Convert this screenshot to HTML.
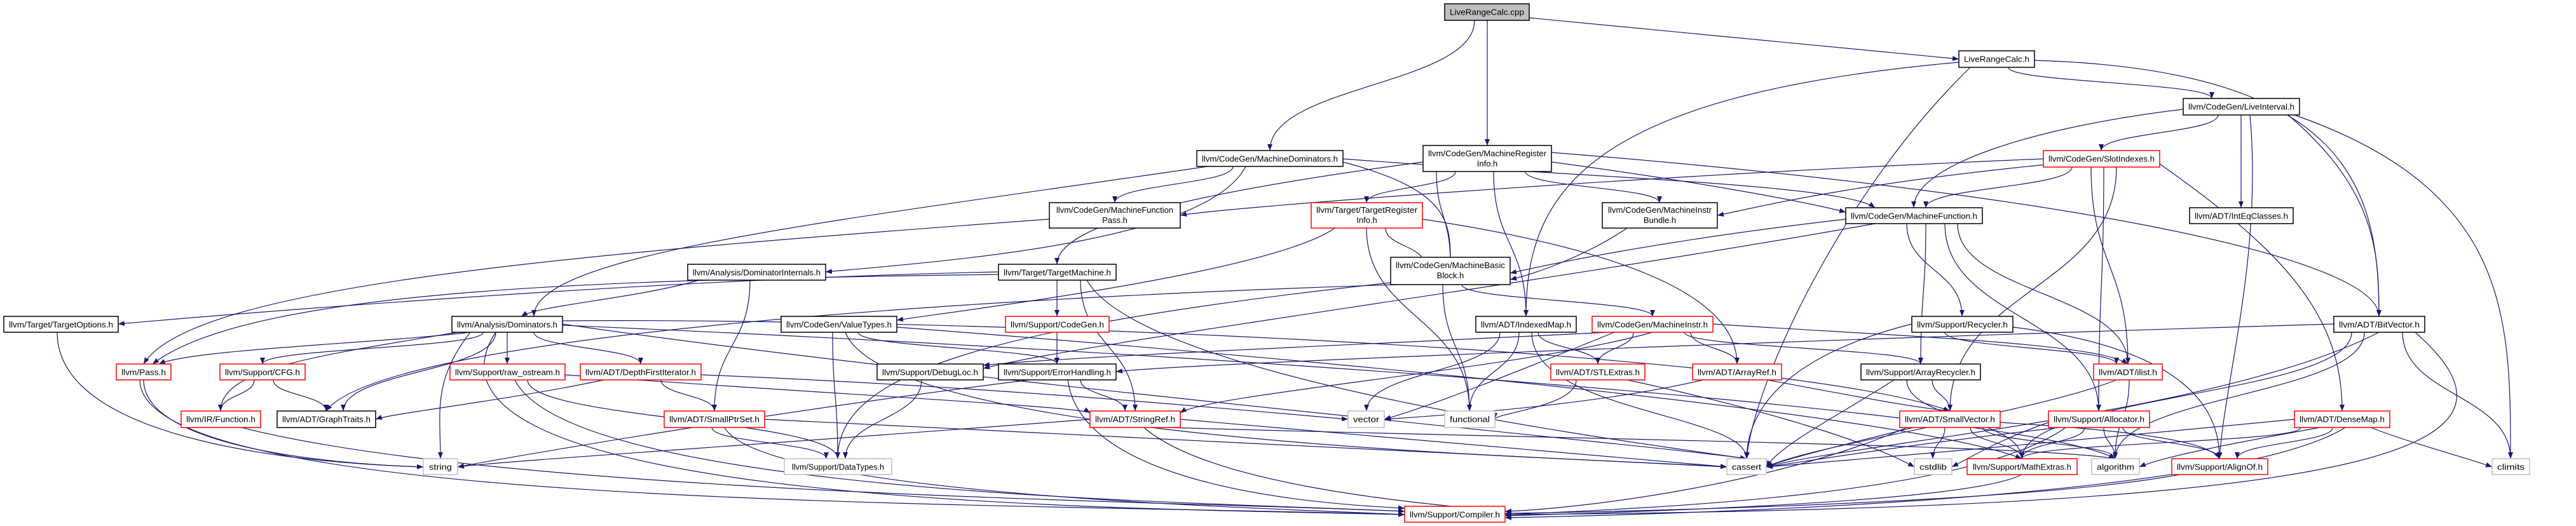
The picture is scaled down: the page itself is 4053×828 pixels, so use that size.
<!DOCTYPE html>
<html><head><meta charset="utf-8"><style>
html,body{margin:0;padding:0;background:#fff;}
svg{display:block;}
text{font-family:"Liberation Sans",sans-serif;font-size:13px;fill:#000;}
.e{fill:none;stroke:#191970;stroke-width:1.2;marker-end:url(#a);}
.b{fill:#fff;stroke:#000;stroke-width:1.5;}
.r{fill:#fff;stroke:#ff0000;stroke-width:1.5;}
.g{fill:#fff;stroke:#bfbfbf;stroke-width:1.5;}
</style></head><body>
<svg width="4053" height="828" viewBox="0 0 4053 828" xmlns="http://www.w3.org/2000/svg">
<defs><marker id="a" markerUnits="userSpaceOnUse" markerWidth="11" markerHeight="8" refX="10" refY="4" orient="auto"><path d="M0,0 L10,4 L0,8 z" fill="#191970"/></marker></defs>
<g>
<path class="e" d="M2320 32 C2320 134 1998 134 1998 237"/>
<path class="e" d="M2340 32 L2340 229"/>
<path class="e" d="M2406 28 L3082 93"/>
<path class="e" d="M3160 106 C3160 130 3480 130 3480 155"/>
<path class="e" d="M3082 98 C2500 150 2401 300 2401 498"/>
<path class="e" d="M3201 95 C3700 110 3743 300 3743 498"/>
<path class="e" d="M3100 106 C2900 300 2760 600 2748 722"/>
<path class="e" d="M3490 181 C3490 209 3306 209 3306 237"/>
<path class="e" d="M3526 181 L3526 327"/>
<path class="e" d="M3435 172 C3200 200 3011 260 3011 327"/>
<path class="e" d="M3600 181 C3740 300 3743 400 3743 498"/>
<path class="e" d="M3540 181 C3560 400 3500 600 3492 722"/>
<path class="e" d="M3610 181 C3950 300 3950 500 3950 722"/>
<path class="e" d="M3215 250 C2500 280 1900 330 1857 339"/>
<path class="e" d="M3230 258 C2900 290 2750 330 2702 339"/>
<path class="e" d="M3260 263 C3260 295 3030 295 3030 327"/>
<path class="e" d="M3290 263 C3290 418 3348 418 3348 573"/>
<path class="e" d="M3310 263 C3310 455 3302 455 3302 647"/>
<path class="e" d="M3330 263 C3330 455 3068 455 3068 647"/>
<path class="e" d="M3398 258 C3600 400 3685 500 3685 647"/>
<path class="e" d="M1940 262 C1940 290 1754 290 1754 319"/>
<path class="e" d="M1960 262 C1900 380 1500 410 1299 428"/>
<path class="e" d="M1900 262 C1300 350 840 400 840 498"/>
<path class="e" d="M2113 255 C2282 300 2282 350 2282 415"/>
<path class="e" d="M2113 250 C2500 280 2900 290 2950 327"/>
<path class="e" d="M2290 270 C2290 295 2150 295 2150 319"/>
<path class="e" d="M2400 270 C2400 295 2611 295 2611 319"/>
<path class="e" d="M2441 255 C2700 290 2850 320 2904 334"/>
<path class="e" d="M2441 240 C3200 300 3743 400 3743 498"/>
<path class="e" d="M2350 270 C2350 384 2401 384 2401 498"/>
<path class="e" d="M2239 255 C1900 300 1663 350 1663 416"/>
<path class="e" d="M2260 270 C2260 340 2282 340 2282 415"/>
<path class="e" d="M2180 359 C2180 387 2240 387 2240 415"/>
<path class="e" d="M2100 359 C2000 430 1500 490 1411 504"/>
<path class="e" d="M2238 345 C2600 400 2733 480 2733 573"/>
<path class="e" d="M2150 359 C2150 500 2312 500 2312 647"/>
<path class="e" d="M1651 345 C900 400 300 450 226 573"/>
<path class="e" d="M2560 359 C2500 400 2420 430 2376 440"/>
<path class="e" d="M2904 345 C2600 380 2420 420 2376 430"/>
<path class="e" d="M2950 352 C2400 450 1700 540 1547 580"/>
<path class="e" d="M3000 352 C3000 425 3087 425 3087 498"/>
<path class="e" d="M3030 352 C3030 462 3022 462 3022 573"/>
<path class="e" d="M3060 352 C3060 500 3302 500 3302 647"/>
<path class="e" d="M3080 352 C3080 462 3348 462 3348 573"/>
<path class="e" d="M1100 441 C1000 470 850 480 820 498"/>
<path class="e" d="M1180 441 C1180 544 1124 544 1124 647"/>
<path class="e" d="M1571 428 C1000 440 300 500 186 510"/>
<path class="e" d="M1571 432 C1000 440 400 450 240 573"/>
<path class="e" d="M1663 441 L1663 498"/>
<path class="e" d="M1700 441 C1700 544 1786 544 1786 647"/>
<path class="e" d="M1710 441 C1800 600 2600 700 2748 722"/>
<path class="e" d="M2300 448 C2300 473 2600 473 2600 498"/>
<path class="e" d="M2270 448 C2270 548 2312 548 2312 647"/>
<path class="e" d="M2200 448 C1500 470 600 530 513 647"/>
<path class="e" d="M2188 445 C1500 520 1318 600 1318 722"/>
<path class="e" d="M740 523 C600 540 300 550 250 573"/>
<path class="e" d="M760 523 C760 548 413 548 413 573"/>
<path class="e" d="M798 523 L798 573"/>
<path class="e" d="M840 523 C840 548 1008 548 1008 573"/>
<path class="e" d="M720 523 C500 560 347 580 347 647"/>
<path class="e" d="M780 523 C780 585 540 585 540 647"/>
<path class="e" d="M740 523 C680 600 693 650 693 722"/>
<path class="e" d="M780 523 C600 800 1800 800 2210 810"/>
<path class="e" d="M885 510 C1500 600 2600 700 2748 722"/>
<path class="e" d="M885 505 C1500 500 2800 550 3068 647"/>
<path class="e" d="M885 512 C2000 560 3200 650 3328 722"/>
<path class="e" d="M1350 523 C1350 548 1663 548 1663 573"/>
<path class="e" d="M1310 523 C1310 622 1318 622 1318 722"/>
<path class="e" d="M1330 523 C1400 700 2500 720 2717 735"/>
<path class="e" d="M1411 515 C2000 560 3000 650 3181 722"/>
<path class="e" d="M1663 523 L1663 573"/>
<path class="e" d="M2360 523 C2360 585 2150 585 2150 647"/>
<path class="e" d="M2390 523 C2390 585 2312 585 2312 647"/>
<path class="e" d="M2420 523 C2420 548 2514 548 2514 573"/>
<path class="e" d="M2410 523 C2410 650 2748 650 2748 722"/>
<path class="e" d="M2570 523 C2570 548 2514 548 2514 573"/>
<path class="e" d="M2660 523 C2660 548 2733 548 2733 573"/>
<path class="e" d="M2650 523 C2650 548 3022 548 3022 573"/>
<path class="e" d="M2530 523 C2200 540 1700 560 1547 575"/>
<path class="e" d="M2540 523 C2400 580 2250 640 2178 660"/>
<path class="e" d="M2695 510 C3000 530 3300 540 3348 573"/>
<path class="e" d="M2600 523 C2400 580 1900 620 1857 650"/>
<path class="e" d="M3008 510 C2850 550 2750 620 2748 722"/>
<path class="e" d="M3060 523 C3060 548 3330 548 3330 573"/>
<path class="e" d="M3167 515 C3450 550 3492 650 3492 722"/>
<path class="e" d="M3672 510 C3000 530 1900 570 1756 585"/>
<path class="e" d="M3700 523 C3700 622 3181 622 3181 722"/>
<path class="e" d="M3720 523 C3720 622 3328 622 3328 722"/>
<path class="e" d="M3780 523 C3780 622 3950 622 3950 722"/>
<path class="e" d="M3743 523 C3500 650 2900 700 2779 735"/>
<path class="e" d="M3800 523 C4000 700 3800 800 2368 810"/>
<path class="e" d="M226 598 C226 700 500 730 666 735"/>
<path class="e" d="M220 598 C220 800 1500 790 2210 810"/>
<path class="e" d="M400 598 C400 622 347 622 347 647"/>
<path class="e" d="M430 598 C430 622 513 622 513 647"/>
<path class="e" d="M830 598 C830 660 1318 660 1318 722"/>
<path class="e" d="M810 598 C900 780 1900 790 2210 805"/>
<path class="e" d="M889 590 C1300 620 1700 640 1715 650"/>
<path class="e" d="M950 598 C800 630 620 650 591 660"/>
<path class="e" d="M1040 598 C1040 622 1124 622 1124 647"/>
<path class="e" d="M1103 590 C1600 610 2000 650 2121 660"/>
<path class="e" d="M1450 598 C1450 660 1330 660 1330 722"/>
<path class="e" d="M1700 598 C1700 622 1770 622 1770 647"/>
<path class="e" d="M1680 598 C1700 750 2000 790 2210 800"/>
<path class="e" d="M1620 598 C1200 650 800 720 720 735"/>
<path class="e" d="M2480 598 C2480 640 2352 650 2352 660"/>
<path class="e" d="M2560 598 C2800 650 2950 700 3012 735"/>
<path class="e" d="M2680 598 C2500 640 2250 655 2178 660"/>
<path class="e" d="M2780 598 C2900 620 3000 640 3068 647"/>
<path class="e" d="M3040 598 C3040 622 3068 622 3068 647"/>
<path class="e" d="M2980 598 C2900 650 2800 700 2779 735"/>
<path class="e" d="M3000 598 C3000 660 3181 660 3181 722"/>
<path class="e" d="M3330 598 C3200 650 2850 700 2779 735"/>
<path class="e" d="M3350 598 C3350 660 3328 660 3328 722"/>
<path class="e" d="M380 673 C800 780 1900 790 2210 805"/>
<path class="e" d="M1120 673 C1120 697 1300 697 1300 722"/>
<path class="e" d="M1140 673 C1200 780 2000 800 2210 810"/>
<path class="e" d="M1203 660 C2000 700 2600 725 2717 735"/>
<path class="e" d="M1715 660 C1200 700 800 725 720 735"/>
<path class="e" d="M1857 660 C2300 700 2600 725 2717 735"/>
<path class="e" d="M1840 673 C2400 690 3200 700 3328 722"/>
<path class="e" d="M1800 673 C1900 760 2200 790 2368 805"/>
<path class="e" d="M3010 673 C2900 700 2800 725 2779 735"/>
<path class="e" d="M3060 673 C3060 697 3041 697 3041 722"/>
<path class="e" d="M3100 673 C3100 697 3181 697 3181 722"/>
<path class="e" d="M3120 673 C3120 697 3328 697 3328 722"/>
<path class="e" d="M3147 665 C3400 680 3480 700 3492 722"/>
<path class="e" d="M3000 673 C2800 760 2500 800 2368 805"/>
<path class="e" d="M3240 673 C3000 700 2850 725 2779 735"/>
<path class="e" d="M3280 673 C3280 697 3181 697 3181 722"/>
<path class="e" d="M3310 673 C3310 697 3328 697 3328 722"/>
<path class="e" d="M3340 673 C3340 697 3492 697 3492 722"/>
<path class="e" d="M3223 665 C3150 690 3100 720 3071 735"/>
<path class="e" d="M3250 673 C3100 780 2600 800 2368 810"/>
<path class="e" d="M3620 673 C3620 697 3181 697 3181 722"/>
<path class="e" d="M3650 673 C3500 700 3400 720 3366 735"/>
<path class="e" d="M3670 673 C3670 697 3520 697 3520 722"/>
<path class="e" d="M3730 673 C3800 700 3880 720 3921 735"/>
<path class="e" d="M3610 660 C3200 700 2900 725 2779 735"/>
<path class="e" d="M3690 673 C3500 790 2600 810 2368 815"/>
<path class="e" d="M3181 747 C3100 790 2600 805 2368 812"/>
<path class="e" d="M3430 747 C3200 790 2600 805 2368 808"/>
<path class="e" d="M90 523 C90 700 500 730 666 735"/>
</g>
<g>
<rect x="2273" y="6" width="133" height="26" fill="#bfbfbf" stroke="#000" stroke-width="1.5"/><text x="2339.5" y="23.5" text-anchor="middle" textLength="117" lengthAdjust="spacingAndGlyphs">LiveRangeCalc.cpp</text>
<rect class="b" x="3082" y="80" width="119" height="26"/><text x="3141.5" y="97.5" text-anchor="middle" textLength="103" lengthAdjust="spacingAndGlyphs">LiveRangeCalc.h</text>
<rect class="b" x="3435" y="155" width="183" height="26"/><text x="3526.5" y="172.5" text-anchor="middle" textLength="167" lengthAdjust="spacingAndGlyphs">llvm/CodeGen/LiveInterval.h</text>
<rect class="b" x="1883" y="237" width="230" height="25"/><text x="1998" y="254.5" text-anchor="middle" textLength="214" lengthAdjust="spacingAndGlyphs">llvm/CodeGen/MachineDominators.h</text>
<rect class="b" x="2239" y="229" width="202" height="41"/><text x="2340" y="246" text-anchor="middle" textLength="186" lengthAdjust="spacingAndGlyphs">llvm/CodeGen/MachineRegister</text><text x="2340" y="262" text-anchor="middle">Info.h</text>
<rect class="r" x="3215" y="237" width="183" height="26"/><text x="3306.5" y="254.5" text-anchor="middle" textLength="167" lengthAdjust="spacingAndGlyphs">llvm/CodeGen/SlotIndexes.h</text>
<rect class="b" x="1651" y="319" width="206" height="40"/><text x="1754" y="335" text-anchor="middle" textLength="184" lengthAdjust="spacingAndGlyphs">llvm/CodeGen/MachineFunction</text><text x="1754" y="351" text-anchor="middle">Pass.h</text>
<rect class="r" x="2063" y="319" width="175" height="40"/><text x="2150.5" y="335" text-anchor="middle" textLength="159" lengthAdjust="spacingAndGlyphs">llvm/Target/TargetRegister</text><text x="2150.5" y="351" text-anchor="middle">Info.h</text>
<rect class="b" x="2521" y="319" width="181" height="40"/><text x="2611.5" y="335" text-anchor="middle" textLength="163" lengthAdjust="spacingAndGlyphs">llvm/CodeGen/MachineInstr</text><text x="2611.5" y="351" text-anchor="middle">Bundle.h</text>
<rect class="b" x="2904" y="327" width="215" height="25"/><text x="3011.5" y="344.5" text-anchor="middle" textLength="199" lengthAdjust="spacingAndGlyphs">llvm/CodeGen/MachineFunction.h</text>
<rect class="b" x="3445" y="327" width="163" height="25"/><text x="3526.5" y="344.5" text-anchor="middle" textLength="147" lengthAdjust="spacingAndGlyphs">llvm/ADT/IntEqClasses.h</text>
<rect class="b" x="1082" y="416" width="217" height="25"/><text x="1190.5" y="433.5" text-anchor="middle" textLength="201" lengthAdjust="spacingAndGlyphs">llvm/Analysis/DominatorInternals.h</text>
<rect class="b" x="1571" y="416" width="185" height="25"/><text x="1663.5" y="433.5" text-anchor="middle" textLength="169" lengthAdjust="spacingAndGlyphs">llvm/Target/TargetMachine.h</text>
<rect class="b" x="2188" y="405" width="188" height="43"/><text x="2282" y="422" text-anchor="middle" textLength="172" lengthAdjust="spacingAndGlyphs">llvm/CodeGen/MachineBasic</text><text x="2282" y="438" text-anchor="middle">Block.h</text>
<rect class="b" x="6" y="498" width="180" height="25"/><text x="96" y="515.5" text-anchor="middle" textLength="164" lengthAdjust="spacingAndGlyphs">llvm/Target/TargetOptions.h</text>
<rect class="b" x="711" y="498" width="174" height="25"/><text x="798" y="515.5" text-anchor="middle" textLength="158" lengthAdjust="spacingAndGlyphs">llvm/Analysis/Dominators.h</text>
<rect class="b" x="1229" y="498" width="182" height="25"/><text x="1320" y="515.5" text-anchor="middle" textLength="166" lengthAdjust="spacingAndGlyphs">llvm/CodeGen/ValueTypes.h</text>
<rect class="r" x="1582" y="498" width="163" height="25"/><text x="1663.5" y="515.5" text-anchor="middle" textLength="147" lengthAdjust="spacingAndGlyphs">llvm/Support/CodeGen.h</text>
<rect class="b" x="2322" y="498" width="158" height="25"/><text x="2401" y="515.5" text-anchor="middle" textLength="142" lengthAdjust="spacingAndGlyphs">llvm/ADT/IndexedMap.h</text>
<rect class="r" x="2505" y="498" width="190" height="25"/><text x="2600" y="515.5" text-anchor="middle" textLength="174" lengthAdjust="spacingAndGlyphs">llvm/CodeGen/MachineInstr.h</text>
<rect class="b" x="3008" y="498" width="159" height="25"/><text x="3087.5" y="515.5" text-anchor="middle" textLength="143" lengthAdjust="spacingAndGlyphs">llvm/Support/Recycler.h</text>
<rect class="b" x="3672" y="498" width="143" height="25"/><text x="3743.5" y="515.5" text-anchor="middle" textLength="127" lengthAdjust="spacingAndGlyphs">llvm/ADT/BitVector.h</text>
<rect class="r" x="183" y="573" width="86" height="25"/><text x="226" y="590.5" text-anchor="middle" textLength="70" lengthAdjust="spacingAndGlyphs">llvm/Pass.h</text>
<rect class="r" x="346" y="573" width="134" height="25"/><text x="413" y="590.5" text-anchor="middle" textLength="118" lengthAdjust="spacingAndGlyphs">llvm/Support/CFG.h</text>
<rect class="r" x="708" y="573" width="181" height="25"/><text x="798.5" y="590.5" text-anchor="middle" textLength="165" lengthAdjust="spacingAndGlyphs">llvm/Support/raw_ostream.h</text>
<rect class="r" x="913" y="573" width="190" height="25"/><text x="1008" y="590.5" text-anchor="middle" textLength="174" lengthAdjust="spacingAndGlyphs">llvm/ADT/DepthFirstIterator.h</text>
<rect class="b" x="1380" y="573" width="167" height="25"/><text x="1463.5" y="590.5" text-anchor="middle" textLength="151" lengthAdjust="spacingAndGlyphs">llvm/Support/DebugLoc.h</text>
<rect class="b" x="1571" y="573" width="185" height="25"/><text x="1663.5" y="590.5" text-anchor="middle" textLength="169" lengthAdjust="spacingAndGlyphs">llvm/Support/ErrorHandling.h</text>
<rect class="r" x="2440" y="573" width="148" height="25"/><text x="2514" y="590.5" text-anchor="middle" textLength="132" lengthAdjust="spacingAndGlyphs">llvm/ADT/STLExtras.h</text>
<rect class="r" x="2663" y="573" width="140" height="25"/><text x="2733" y="590.5" text-anchor="middle" textLength="124" lengthAdjust="spacingAndGlyphs">llvm/ADT/ArrayRef.h</text>
<rect class="b" x="2928" y="573" width="188" height="25"/><text x="3022" y="590.5" text-anchor="middle" textLength="172" lengthAdjust="spacingAndGlyphs">llvm/Support/ArrayRecycler.h</text>
<rect class="r" x="3294" y="573" width="108" height="25"/><text x="3348" y="590.5" text-anchor="middle" textLength="92" lengthAdjust="spacingAndGlyphs">llvm/ADT/ilist.h</text>
<rect class="r" x="285" y="647" width="125" height="26"/><text x="347.5" y="664.5" text-anchor="middle" textLength="109" lengthAdjust="spacingAndGlyphs">llvm/IR/Function.h</text>
<rect class="b" x="436" y="647" width="155" height="26"/><text x="513.5" y="664.5" text-anchor="middle" textLength="139" lengthAdjust="spacingAndGlyphs">llvm/ADT/GraphTraits.h</text>
<rect class="r" x="1045" y="647" width="158" height="26"/><text x="1124" y="664.5" text-anchor="middle" textLength="142" lengthAdjust="spacingAndGlyphs">llvm/ADT/SmallPtrSet.h</text>
<rect class="r" x="1715" y="647" width="142" height="26"/><text x="1786" y="664.5" text-anchor="middle" textLength="126" lengthAdjust="spacingAndGlyphs">llvm/ADT/StringRef.h</text>
<rect class="g" x="2121" y="647" width="57" height="26"/><text x="2149.5" y="664.5" text-anchor="middle" textLength="41" lengthAdjust="spacingAndGlyphs">vector</text>
<rect class="g" x="2273" y="647" width="79" height="26"/><text x="2312.5" y="664.5" text-anchor="middle" textLength="63" lengthAdjust="spacingAndGlyphs">functional</text>
<rect class="r" x="2989" y="647" width="158" height="26"/><text x="3068" y="664.5" text-anchor="middle" textLength="142" lengthAdjust="spacingAndGlyphs">llvm/ADT/SmallVector.h</text>
<rect class="r" x="3223" y="647" width="159" height="26"/><text x="3302.5" y="664.5" text-anchor="middle" textLength="143" lengthAdjust="spacingAndGlyphs">llvm/Support/Allocator.h</text>
<rect class="r" x="3610" y="647" width="150" height="26"/><text x="3685" y="664.5" text-anchor="middle" textLength="134" lengthAdjust="spacingAndGlyphs">llvm/ADT/DenseMap.h</text>
<rect class="g" x="666" y="722" width="54" height="25"/><text x="693" y="739.5" text-anchor="middle" textLength="36" lengthAdjust="spacingAndGlyphs">string</text>
<rect class="g" x="1234" y="722" width="169" height="25"/><text x="1318.5" y="739.5" text-anchor="middle" textLength="145" lengthAdjust="spacingAndGlyphs">llvm/Support/DataTypes.h</text>
<rect class="g" x="2717" y="722" width="62" height="25"/><text x="2748" y="739.5" text-anchor="middle" textLength="46" lengthAdjust="spacingAndGlyphs">cassert</text>
<rect class="g" x="3012" y="722" width="59" height="25"/><text x="3041.5" y="739.5" text-anchor="middle" textLength="43" lengthAdjust="spacingAndGlyphs">cstdlib</text>
<rect class="r" x="3095" y="722" width="173" height="25"/><text x="3181.5" y="739.5" text-anchor="middle" textLength="155" lengthAdjust="spacingAndGlyphs">llvm/Support/MathExtras.h</text>
<rect class="g" x="3291" y="722" width="75" height="25"/><text x="3328.5" y="739.5" text-anchor="middle" textLength="59" lengthAdjust="spacingAndGlyphs">algorithm</text>
<rect class="r" x="3417" y="722" width="151" height="25"/><text x="3492.5" y="739.5" text-anchor="middle" textLength="135" lengthAdjust="spacingAndGlyphs">llvm/Support/AlignOf.h</text>
<rect class="g" x="3921" y="722" width="59" height="25"/><text x="3950.5" y="739.5" text-anchor="middle" textLength="43" lengthAdjust="spacingAndGlyphs">climits</text>
<rect class="r" x="2210" y="797" width="158" height="25"/><text x="2289" y="814.5" text-anchor="middle" textLength="142" lengthAdjust="spacingAndGlyphs">llvm/Support/Compiler.h</text>
</g>
</svg>
</body></html>
